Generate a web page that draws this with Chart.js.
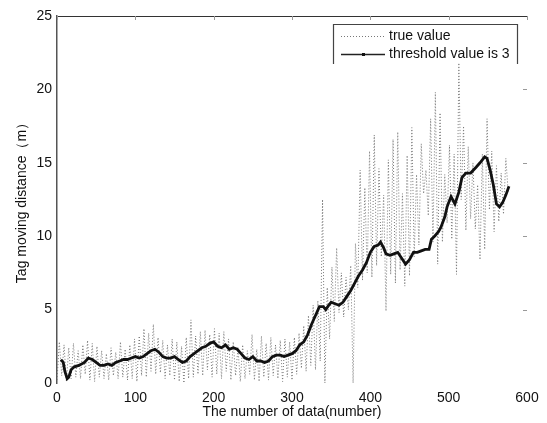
<!DOCTYPE html>
<html>
<head>
<meta charset="utf-8">
<script src="https://cdn.jsdelivr.net/npm/chart.js@4/dist/chart.umd.min.js"></script>
<style>
  html, body { margin: 0; padding: 0; background: #fff; }
  #wrap { width: 547px; height: 423px; }
</style>
</head>
<body>
<div id="wrap"><canvas id="myChart" width="547" height="423"></canvas></div>
<script>
// true value, one sample every 3 data points (x = 0, 3, 6 ...)
const trueStep = 3;
const trueValue = [
  0.2, 2.8, 0.5, 2.6, 0.1, 2.4, 0.3, 2.7, 0.4, 2.2,
  0.3, 2.6, 0.6, 2.9, 0.2, 2.7, 0.1, 2.5, 0.4, 2.2,
  0.3, 2.0, 0.2, 2.4, 0.5, 2.1, 0.3, 2.8, 0.4, 2.3,
  0.2, 2.6, 0.3, 3.0, 0.1, 3.2, 0.5, 3.7, 0.4, 3.4,
  0.8, 4.0, 0.6, 3.1, 0.7, 2.9, 0.3, 2.6, 0.5, 3.0,
  0.2, 2.8, 0.1, 2.5, 0.0, 3.1, 0.3, 4.3, 0.4, 3.2,
  0.6, 3.5, 0.5, 3.6, 0.9, 3.3, 0.4, 3.7, 0.6, 3.4,
  0.3, 3.5, 0.8, 3.0, 0.2, 2.8, 0.5, 2.4, 0.1, 2.6,
  0.3, 2.2, 0.6, 3.3, 0.2, 2.3, 0.1, 3.2, 0.4, 2.7,
  0.2, 3.1, 0.5, 2.6, 0.3, 2.9, 0.1, 3.0, 0.4, 2.8,
  0.2, 3.1, 0.6, 3.4, 1.0, 3.9, 0.8, 4.6, 1.2, 5.3,
  0.9, 5.6, 1.5, 12.5, 0.0, 6.5, 3.0, 7.9, 4.2, 9.2,
  4.8, 7.5, 4.5, 7.2, 5.0, 8.0, 0.0, 9.5, 6.5, 14.5,
  7.0, 13.3, 7.5, 15.8, 7.2, 16.9, 8.0, 14.6, 8.6, 12.8,
  4.9, 15.2, 7.4, 16.6, 6.8, 17.1, 7.7, 12.9, 6.6, 15.5,
  7.3, 17.4, 8.6, 14.2, 9.4, 16.3, 12.9, 14.5, 11.4, 18.0,
  9.6, 19.8, 8.1, 18.4, 9.6, 14.2, 10.9, 16.2, 9.8, 15.6,
  7.4, 21.8, 12.5, 17.5, 10.4, 16.1, 11.2, 15.0, 10.5, 13.5,
  8.4, 15.6, 9.1, 18.0, 11.8, 15.8, 10.3, 14.8, 11.0, 14.3,
  11.5, 15.3, 13.0
];

// threshold value is 3
const thrX = [
  5, 8, 10, 13, 15, 18, 22, 28, 35, 40, 45, 50, 55, 60, 65, 70, 75, 80, 85, 90,
  95, 100, 105, 110, 115, 120, 125, 130, 135, 140, 145, 150, 155, 160, 165, 170, 175, 180, 185, 190,
  195, 200, 205, 210, 215, 220, 225, 230, 235, 240, 245, 250, 255, 260, 265, 270, 275, 280, 285, 290,
  295, 300, 305, 310, 315, 320, 325, 330, 335, 340, 343, 347, 350, 355, 360, 365, 370, 375, 380, 385,
  390, 395, 400, 405, 410, 413, 417, 420, 425, 430, 435, 440, 445, 450, 455, 460, 465, 470, 475, 478,
  482, 487, 490, 495, 498, 503, 508, 513, 517, 522, 528, 535, 540, 546, 549, 553, 557, 561, 565, 569,
  573, 577
];
const thrY = [
  1.6, 1.4, 0.8, 0.3, 0.4, 0.9, 1.1, 1.2, 1.4, 1.7, 1.6, 1.4, 1.2, 1.2, 1.3, 1.2, 1.4, 1.5, 1.6, 1.6,
  1.7, 1.8, 1.7, 1.8, 2.0, 2.2, 2.3, 2.1, 1.8, 1.7, 1.7, 1.8, 1.6, 1.4, 1.5, 1.8, 2.0, 2.2, 2.4, 2.5,
  2.7, 2.8, 2.5, 2.4, 2.6, 2.3, 2.4, 2.3, 2.0, 1.7, 1.6, 1.8, 1.5, 1.5, 1.4, 1.5, 1.8, 1.9, 1.9, 1.8,
  1.9, 2.0, 2.2, 2.6, 2.8, 3.3, 4.0, 4.6, 5.2, 5.2, 5.0, 5.3, 5.5, 5.4, 5.3, 5.5, 5.9, 6.3, 6.8, 7.3,
  7.7, 8.2, 8.9, 9.3, 9.4, 9.6, 9.2, 8.8, 8.7, 8.8, 8.9, 8.5, 8.1, 8.4, 8.9, 8.9, 9.0, 9.1, 9.1, 9.8,
  10.0, 10.3, 10.6, 11.3, 12.0, 12.7, 12.2, 13.0, 14.0, 14.3, 14.3, 14.7, 15.0, 15.4, 15.3, 14.5, 13.5, 12.2, 12.0, 12.3,
  12.8, 13.4
];

const xTicks = [0, 100, 200, 300, 400, 500, 600];
const yTicks = [0, 5, 10, 15, 20, 25];

const FONT = "'Liberation Sans', Arial, sans-serif";

// rahmen, notranje oznake in legenda
const framePlugin = {
  id: 'frame',
  afterDraw(chart) {
    const ctx = chart.ctx;
    const a = chart.chartArea;
    const xs = chart.scales.x;
    const ys = chart.scales.y;
    ctx.save();
    ctx.strokeStyle = '#333';
    ctx.lineWidth = 1.2;
    ctx.beginPath();
    ctx.moveTo(a.left, a.top + 0.5);
    ctx.lineTo(a.right + 1, a.top + 0.5);
    ctx.stroke();

    // male notranje oznake
    ctx.strokeStyle = '#999';
    ctx.lineWidth = 1;
    xTicks.forEach(v => {
      const px = Math.round(xs.getPixelForValue(v)) + 0.5;
      ctx.beginPath();
      ctx.moveTo(px, a.top);
      ctx.lineTo(px, a.top + 4);
      ctx.stroke();
    });
    yTicks.slice(1, 5).forEach(v => {
      const py = Math.round(ys.getPixelForValue(v)) + 0.5;
      ctx.beginPath();
      ctx.moveTo(a.right - 4, py);
      ctx.lineTo(a.right, py);
      ctx.stroke();
    });

    // legenda
    const lx = 333, rx = 517, ty = 24, by = 64;
    ctx.strokeStyle = '#444';
    ctx.lineWidth = 1.2;
    ctx.beginPath();
    ctx.moveTo(lx + 0.5, by);
    ctx.lineTo(lx + 0.5, ty + 0.5);
    ctx.lineTo(rx + 0.5, ty + 0.5);
    ctx.lineTo(rx + 0.5, by);
    ctx.stroke();

    ctx.strokeStyle = '#777';
    ctx.lineWidth = 1;
    ctx.setLineDash([1, 2]);
    ctx.beginPath();
    ctx.moveTo(341, 36.5);
    ctx.lineTo(385, 36.5);
    ctx.stroke();
    ctx.setLineDash([]);

    ctx.strokeStyle = '#222';
    ctx.lineWidth = 1.5;
    ctx.beginPath();
    ctx.moveTo(341, 54.5);
    ctx.lineTo(385, 54.5);
    ctx.stroke();
    ctx.fillStyle = '#111';
    ctx.fillRect(362, 53, 3, 3);

    ctx.fillStyle = '#111';
    ctx.font = '14px ' + FONT;
    ctx.textBaseline = 'middle';
    ctx.textAlign = 'left';
    ctx.fillText('true value', 389, 36);
    ctx.fillText('threshold value is 3', 389, 54);
    ctx.restore();
  }
};

const ctx = document.getElementById('myChart').getContext('2d');

const myChart = new Chart(ctx, {
  type: 'line',
  data: {
    datasets: [
      {
        label: 'true value',
        data: trueValue.map((v, i) => ({ x: i * trueStep, y: v })),
        borderColor: '#777',
        borderWidth: 1,
        borderDash: [1, 2],
        pointRadius: 0,
        tension: 0,
        order: 2
      },
      {
        label: 'threshold value is 3',
        data: thrX.map((x, i) => ({ x: x, y: thrY[i] })),
        borderColor: '#111',
        borderWidth: 2.8,
        pointRadius: 0,
        tension: 0,
        order: 1
      }
    ]
  },
  options: {
    responsive: false,
    animation: false,
    layout: { padding: { top: 16, right: 20, left: 0, bottom: 0 } },
    plugins: {
      legend: { display: false },
      tooltip: { enabled: false }
    },
    scales: {
      x: {
        type: 'linear',
        min: 0,
        max: 600,
        afterBuildTicks: s => { s.ticks = xTicks.map(v => ({ value: v })); },
        afterFit: s => { s.height = 40; },
        grid: { display: false, drawTicks: false },
        border: { display: false },
        ticks: { color: '#111', font: { family: FONT, size: 14 }, padding: 7, maxRotation: 0 },
        title: {
          display: true,
          text: 'The number of data(number)',
          color: '#111',
          font: { family: FONT, size: 14 },
          padding: { top: 0, bottom: 2 }
        }
      },
      y: {
        min: 0,
        max: 25,
        afterBuildTicks: s => { s.ticks = yTicks.map(v => ({ value: v })); },
        afterFit: s => { s.width = 57; },
        grid: { display: false, drawTicks: false },
        border: { display: true, color: '#555', width: 1.5 },
        ticks: { color: '#111', font: { family: FONT, size: 14 }, padding: 5 },
        title: {
          display: true,
          text: 'Tag moving distance（m）',
          color: '#111',
          font: { family: FONT, size: 14 },
          padding: { top: 14, bottom: 0 }
        }
      }
    }
  },
  plugins: [framePlugin]
});
</script>
</body>
</html>
